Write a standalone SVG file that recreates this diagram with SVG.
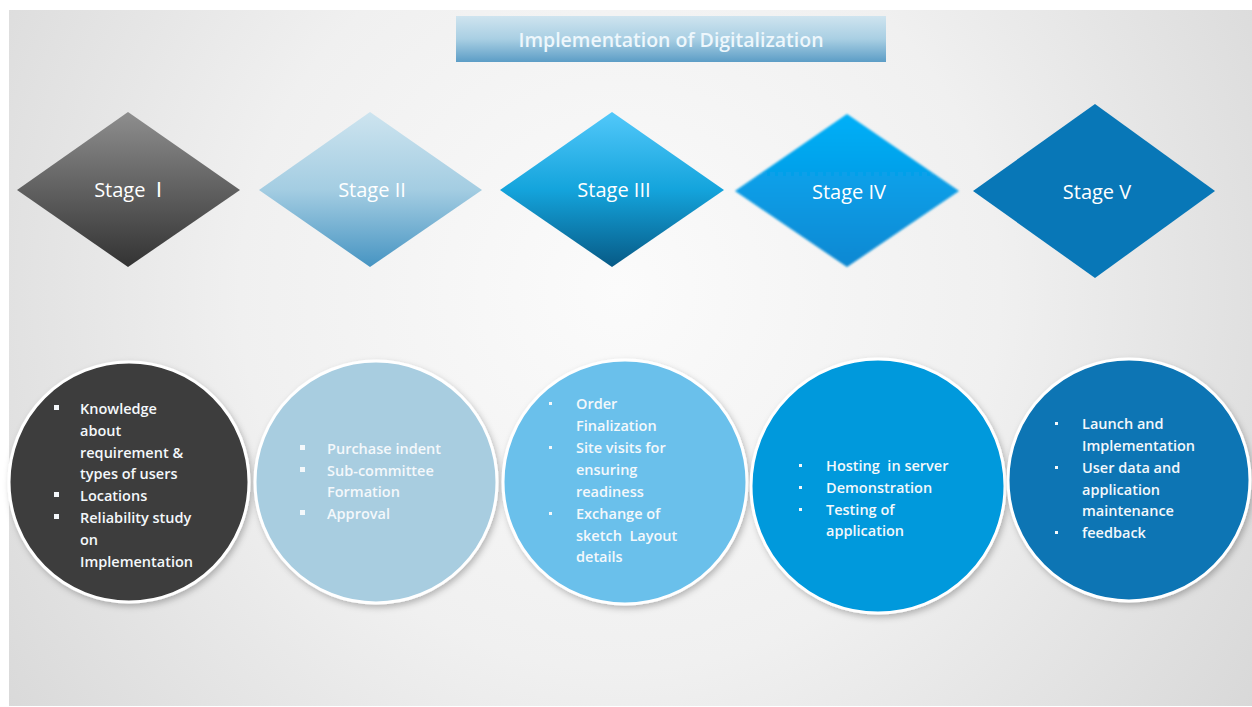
<svg xmlns="http://www.w3.org/2000/svg" width="1252" height="707" viewBox="0 0 1252 707">
  <defs>
    <radialGradient id="bg" cx="620" cy="290" r="760" gradientUnits="userSpaceOnUse">
      <stop offset="0" stop-color="#fbfbfb"/>
      <stop offset="0.5" stop-color="#f0f0f0"/>
      <stop offset="1" stop-color="#d8d8d8"/>
    </radialGradient>
    <linearGradient id="gTitle" x1="0" y1="0" x2="0" y2="1">
      <stop offset="0" stop-color="#cfe4ef"/>
      <stop offset="0.5" stop-color="#a9cfe3"/>
      <stop offset="1" stop-color="#5c9dc6"/>
    </linearGradient>
    <linearGradient id="g1" x1="0" y1="0" x2="0" y2="1">
      <stop offset="0" stop-color="#8e8e8e"/>
      <stop offset="1" stop-color="#333333"/>
    </linearGradient>
    <linearGradient id="g2" x1="0" y1="0" x2="0" y2="1">
      <stop offset="0" stop-color="#cde4ef"/>
      <stop offset="0.5" stop-color="#a4cde2"/>
      <stop offset="1" stop-color="#4694c2"/>
    </linearGradient>
    <linearGradient id="g3" x1="0" y1="0" x2="0" y2="1">
      <stop offset="0" stop-color="#52c8fa"/>
      <stop offset="0.5" stop-color="#14a4dc"/>
      <stop offset="1" stop-color="#075a86"/>
    </linearGradient>
    <linearGradient id="g4" x1="0" y1="0" x2="0" y2="1">
      <stop offset="0" stop-color="#06b0f8"/>
      <stop offset="1" stop-color="#0888d2"/>
    </linearGradient>
    <filter id="soft" x="-10%" y="-10%" width="120%" height="120%">
      <feGaussianBlur stdDeviation="0.8"/>
    </filter>
    <filter id="shadow" x="-10%" y="-10%" width="125%" height="125%">
      <feDropShadow dx="2" dy="3" stdDeviation="3" flood-color="#000000" flood-opacity="0.25"/>
    </filter>
  </defs>
  <style>
    .stage { font-family: "Open Sans", "Liberation Sans", sans-serif; font-size: 20px; fill: #ffffff; text-anchor: middle; }
    .roman { font-family: "Liberation Serif", serif; }
    .title { font-family: "Open Sans", "Liberation Sans", sans-serif; font-size: 19.5px; font-weight: 600; fill: #eef7fc; text-anchor: middle; }
    .item { font-family: "Open Sans", "Liberation Sans", sans-serif; font-size: 14.5px; font-weight: 600; fill: #f4f8fb; white-space: pre; }
    .disc { stroke: #ffffff; stroke-width: 3; filter: url(#shadow); }
    .sq { fill: #f4f8fb; }
  </style>

  <!-- backdrop -->
  <rect x="0" y="0" width="1252" height="707" fill="#ffffff"/>
  <rect x="9" y="10" width="1243" height="696" fill="url(#bg)"/>

  <!-- heading banner -->
  <g id="title">
    <rect x="456" y="16" width="430" height="46" fill="url(#gTitle)"/>
    <text class="title" x="671" y="47">Implementation of Digitalization</text>
  </g>

  <!-- stage diamonds -->
  <g id="stage1">
    <polygon points="128,112 240,190 128,267 17,190" fill="url(#g1)"/>
    <text class="stage" x="128" y="197" xml:space="preserve">Stage  <tspan class="roman">Ⅰ</tspan></text>
  </g>
  <g id="stage2">
    <polygon points="370,112 482,190 370,267 259,190" fill="url(#g2)"/>
    <text class="stage" x="372" y="197">Stage II</text>
  </g>
  <g id="stage3">
    <polygon points="612,112 724,190 612,267 500,190" fill="url(#g3)"/>
    <text class="stage" x="614" y="197">Stage III</text>
  </g>
  <g id="stage4">
    <polygon points="847,114 959,191 847,267 735,191" fill="url(#g4)" filter="url(#soft)"/>
    <text class="stage" x="849" y="199">Stage IV</text>
  </g>
  <g id="stage5">
    <polygon points="1095,104 1215,191 1095,278 973,191" fill="#0877b7"/>
    <text class="stage" x="1097" y="199">Stage V</text>
  </g>

  <!-- detail circles -->
  <g id="detail1">
    <circle class="disc" cx="129" cy="482" r="120" fill="#3d3d3d"/>
    <rect class="sq" x="54" y="405" width="5" height="5"/>
    <text class="item" x="80" y="414">Knowledge</text>
    <text class="item" x="80" y="436">about</text>
    <text class="item" x="80" y="458">requirement &amp;</text>
    <text class="item" x="80" y="479">types of users</text>
    <rect class="sq" x="54" y="492" width="5" height="5"/>
    <text class="item" x="80" y="501">Locations</text>
    <rect class="sq" x="54" y="514" width="5" height="5"/>
    <text class="item" x="80" y="523">Reliability study</text>
    <text class="item" x="80" y="545">on</text>
    <text class="item" x="80" y="567">Implementation</text>
  </g>
  <g id="detail2">
    <circle class="disc" cx="376" cy="482" r="121" fill="#a8cde0"/>
    <rect class="sq" x="300" y="445" width="5" height="5"/>
    <text class="item" x="327" y="454">Purchase indent</text>
    <rect class="sq" x="300" y="467" width="5" height="5"/>
    <text class="item" x="327" y="476">Sub-committee</text>
    <text class="item" x="327" y="497">Formation</text>
    <rect class="sq" x="300" y="510" width="5" height="5"/>
    <text class="item" x="327" y="519">Approval</text>
  </g>
  <g id="detail3">
    <circle class="disc" cx="625" cy="482" r="122" fill="#6bc0eb"/>
    <rect class="sq" x="549" y="402" width="3" height="3"/>
    <text class="item" x="576" y="409">Order</text>
    <text class="item" x="576" y="431">Finalization</text>
    <rect class="sq" x="549" y="446" width="3" height="3"/>
    <text class="item" x="576" y="453">Site visits for</text>
    <text class="item" x="576" y="475">ensuring</text>
    <text class="item" x="576" y="497">readiness</text>
    <rect class="sq" x="549" y="512" width="3" height="3"/>
    <text class="item" x="576" y="519">Exchange of</text>
    <text class="item" x="576" y="541" xml:space="preserve">sketch  Layout</text>
    <text class="item" x="576" y="562">details</text>
  </g>
  <g id="detail4">
    <circle class="disc" cx="878" cy="486" r="127" fill="#0099dc"/>
    <rect class="sq" x="799" y="464" width="3" height="3"/>
    <text class="item" x="826" y="471" xml:space="preserve">Hosting  in server</text>
    <rect class="sq" x="799" y="486" width="3" height="3"/>
    <text class="item" x="826" y="493">Demonstration</text>
    <rect class="sq" x="799" y="508" width="3" height="3"/>
    <text class="item" x="826" y="515">Testing of</text>
    <text class="item" x="826" y="536">application</text>
  </g>
  <g id="detail5">
    <circle class="disc" cx="1129" cy="480" r="121" fill="#0a74b4"/>
    <rect class="sq" x="1055" y="422" width="3" height="3"/>
    <text class="item" x="1082" y="429">Launch and</text>
    <text class="item" x="1082" y="451">Implementation</text>
    <rect class="sq" x="1055" y="466" width="3" height="3"/>
    <text class="item" x="1082" y="473">User data and</text>
    <text class="item" x="1082" y="495">application</text>
    <text class="item" x="1082" y="516">maintenance</text>
    <rect class="sq" x="1055" y="531" width="3" height="3"/>
    <text class="item" x="1082" y="538">feedback</text>
  </g>
</svg>
